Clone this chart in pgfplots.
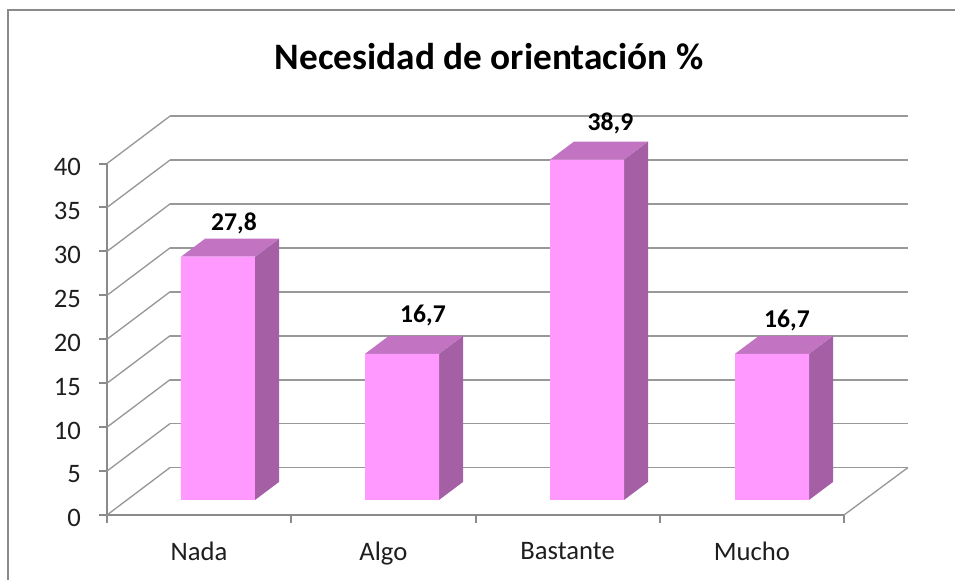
\documentclass[border=0pt]{standalone}
\usepackage{pgfplots}
\pgfplotsset{compat=1.18}
\usepackage{fontspec}
\setmainfont{Carlito}
\definecolor{gridc}{HTML}{989898}
\definecolor{axc}{HTML}{8A8A8A}
\definecolor{front}{HTML}{FF99FF}
\definecolor{side}{HTML}{A560A5}
\definecolor{topf}{HTML}{C274C2}
\definecolor{txt}{HTML}{1E1E1E}
\begin{document}
\begin{tikzpicture}[x=1pt,y=1pt]
\useasboundingbox[fill=white] (-80.25,-48.75) rectangle (636,386.25);
\draw[axc,line width=1.8pt] (-74.25,-48.75) -- (-74.25,378.75) -- (636,378.75);
\begin{axis}[
  name=main, at={(0,0)}, anchor=origin,
  scale only axis, width=552.75pt, height=263.6pt,
  xmin=0, xmax=4, ymin=0, ymax=40, clip=false,
  axis x line=bottom, axis y line=left,
  axis line style={-, draw=axc, line width=1.5pt},
  xtick={0,1,2,3,4}, xticklabels={Nada,Algo,Bastante,Mucho},
  x tick label as interval,
  ytick={0,5,...,40},
  tick align=outside, major tick length=6pt,
  tick style={draw=axc, line width=1.5pt},
  /pgf/number format/assume math mode=true,
  tick label style={font=\fontsize{20}{23}\selectfont, text=txt},
  xticklabel style={yshift=-11pt},
  yticklabel style={xshift=-10pt, yshift=-2.5pt},
  title={\textbf{Necesidad de orientación \%}},
  title style={at={(0.5183,1.303)}, anchor=center, yshift=-6pt, font=\fontsize{28}{32}\selectfont, text=black},
]
% side wall diagonals
\addplot[gridc, line width=1pt] coordinates {(0,0) (0.342,5.4)};
\addplot[gridc, line width=1pt] coordinates {(4.347,5.4) (4,0)};
\addplot[gridc, line width=1pt] coordinates {(0,5) (0.342,10.4)};
\addplot[gridc, line width=1pt] coordinates {(0,10) (0.342,15.4)};
\addplot[gridc, line width=1pt] coordinates {(0,15) (0.342,20.4)};
\addplot[gridc, line width=1pt] coordinates {(0,20) (0.342,25.4)};
\addplot[gridc, line width=1pt] coordinates {(0,25) (0.342,30.4)};
\addplot[gridc, line width=1pt] coordinates {(0,30) (0.342,35.4)};
\addplot[gridc, line width=1pt] coordinates {(0,35) (0.342,40.4)};
\addplot[gridc, line width=1pt] coordinates {(0,40) (0.342,45.4)};
% back wall lines
\addplot[gridc, line width=1.3pt] coordinates {(0.342,5.4) (4.347,5.4)};
\addplot[gridc, line width=1.3pt] coordinates {(0.342,10.4) (4.347,10.4)};
\addplot[gridc, line width=1.7pt] coordinates {(0.342,15.4) (4.347,15.4)};
\addplot[gridc, line width=1.3pt] coordinates {(0.342,20.4) (4.347,20.4)};
\addplot[gridc, line width=1.7pt] coordinates {(0.342,25.4) (4.347,25.4)};
\addplot[gridc, line width=1.3pt] coordinates {(0.342,30.4) (4.347,30.4)};
\addplot[gridc, line width=1.7pt] coordinates {(0.342,35.4) (4.347,35.4)};
\addplot[gridc, line width=1.7pt] coordinates {(0.342,40.4) (4.347,40.4)};
\addplot[gridc, line width=1.2pt] coordinates {(0.342,45.4) (4.347,45.4)};
\end{axis}
\begin{axis}[
  at={(0,11.25pt)}, anchor=origin,
  scale only axis, width=552.75pt, height=262.5pt,
  xmin=0, xmax=4, ymin=0, ymax=40, clip=false, hide axis,
  /pgf/number format/.cd, use comma, fixed, fixed zerofill, precision=1, assume math mode=true,
]
% side faces
\addplot[fill=side, draw=none] coordinates {(0.8033,0) (0.9335,2.06) (0.9335,29.86) (0.8033,27.8)} --cycle;
\addplot[fill=side, draw=none] coordinates {(1.8019,0) (1.9322,2.06) (1.9322,18.76) (1.8019,16.7)} --cycle;
\addplot[fill=side, draw=none] coordinates {(2.8060,0) (2.9362,2.06) (2.9362,40.96) (2.8060,38.9)} --cycle;
\addplot[fill=side, draw=none] coordinates {(3.8100,0) (3.9403,2.06) (3.9403,18.76) (3.8100,16.7)} --cycle;
% top faces
\addplot[fill=topf, draw=none] coordinates {(0.4016,27.8) (0.8033,27.8) (0.9335,29.86) (0.5319,29.86)} --cycle;
\addplot[fill=topf, draw=none] coordinates {(1.4003,16.7) (1.8019,16.7) (1.9322,18.76) (1.5305,18.76)} --cycle;
\addplot[fill=topf, draw=none] coordinates {(2.4043,38.9) (2.8060,38.9) (2.9362,40.96) (2.5346,40.96)} --cycle;
\addplot[fill=topf, draw=none] coordinates {(3.4084,16.7) (3.8100,16.7) (3.9403,18.76) (3.5387,18.76)} --cycle;
% front faces with the values
\addplot[ybar, bar width=55.5pt, bar shift=0pt, fill=front, draw=none,
  visualization depends on={\thisrow{dx} \as \dx},
  visualization depends on={\thisrow{dy} \as \dy},
  nodes near coords,
  nodes near coords style={anchor=center, xshift=\dx pt, yshift=\dy pt,
     font=\fontsize{19.2}{22}\selectfont\bfseries, text=black},
] table[x=x, y=v] {
x      v     dx    dy
0.6024 27.8  12    24.75
1.6011 16.7  15.75 28.5
2.6052 38.9  17.6  27
3.6092 16.7  11.25 24.75
};
\end{axis}
\end{tikzpicture}
\end{document}
